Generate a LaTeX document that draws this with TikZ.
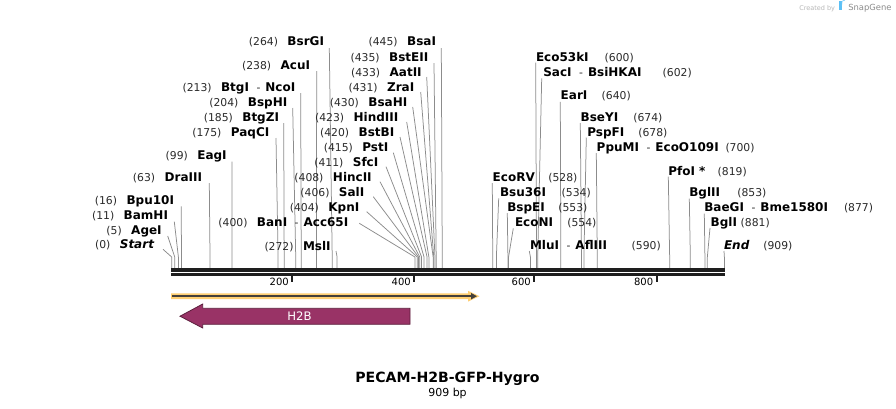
\documentclass[tikz,border=0pt]{standalone}
\usepackage{fontspec}
\setmainfont{DejaVu Sans}
\usetikzlibrary{arrows.meta}
\definecolor{leadc}{HTML}{8C8C8C}
\definecolor{barc}{HTML}{1E1E1E}
\definecolor{numc}{HTML}{2A2A2A}
\definecolor{orangec}{HTML}{FFCF72}
\definecolor{featc}{HTML}{45403A}
\definecolor{h2bc}{HTML}{993366}
\definecolor{snapblue}{HTML}{5CC0F5}
\newcommand\nm[1]{{\fontsize{12}{14}\selectfont\bfseries #1}}
\newcommand\nb[1]{{\fontsize{10.8}{13}\selectfont\color{numc}#1}}
\newcommand\dsh{\hspace{7.5pt}\nb{-}\hspace{5pt}}
\tikzset{
  lbl/.style={inner sep=0pt, outer sep=0pt},
  leader/.style={draw=leadc, line width=0.75pt},
  barline/.style={draw=barc},
  tickm/.style={draw=barc, line width=1.8pt},
  ticklbl/.style={inner sep=0pt, font=\fontsize{10}{12}\selectfont, anchor=base east}
}
% left-side label: name, right end x, baseline, name content, bp, dx, dy
\newcommand\LL[7]{%
  \node[lbl, anchor=base east] (#1) at (#2,#3) {\nb{(#5)}\hspace{9.5pt}#4};
  \coordinate (s#1) at ({171.7+0.608*#5},268);
  \draw[leader] ([shift={(#6,#7)}]#1.base east) -- ({171.7+0.608*#5},257) -- (s#1);}
% right-side label: name, left x, baseline, name content, bp, dx, dy, number x
\newcommand\LR[8]{%
  \node[lbl, anchor=base west] (#1) at (#2,#3) {#4};
  \node[lbl, anchor=base west] (#1n) at (#8,#3) {\nb{(#5)}};
  \coordinate (s#1) at ({171.7+0.608*#5},268);
  \draw[leader] ([shift={(#6,#7)}]#1.base west) -- ({171.7+0.608*#5},257) -- (s#1);}
\begin{document}
\begin{tikzpicture}[x=1pt,y=-1pt]
\fill[white] (0,0) rectangle (896,408);
\useasboundingbox (0,0) rectangle (896,408);

% left group
\LL{bsrgi}{324}{45.7}{\nm{BsrGI}}{264}{5.3}{2.3}
\LL{acui}{310}{69}{\nm{AcuI}}{238}{6.7}{2}
\LL{btgi}{295.3}{91}{\nm{BtgI}\dsh\nm{NcoI}}{213}{5.4}{2}
\LL{bsphi}{287.3}{106}{\nm{BspHI}}{204}{5.4}{2}
\LL{btgzi}{279}{121}{\nm{BtgZI}}{185}{4.7}{2}
\LL{paqci}{269.3}{136}{\nm{PaqCI}}{175}{6.7}{2}
\LL{eagi}{226.7}{159.5}{\nm{EagI}}{99}{5.3}{2}
\LL{draiii}{202}{181.7}{\nm{DraIII}}{63}{7.3}{1.5}
\LL{bpuxi}{174}{204.3}{\nm{Bpu10I}}{16}{7.3}{2}
\LL{bamhi}{168}{219}{\nm{BamHI}}{11}{6.3}{2.7}
\LL{agei}{161.7}{234}{\nm{AgeI}}{5}{6}{2}
\LL{start}{154}{248.3}{\nm{\itshape Start}}{0}{9}{1}
\LL{bani}{348.3}{226}{\nm{BanI}\dsh\nm{Acc65I}}{400}{11}{-2.7}
\LL{msli}{330.7}{250}{\nm{MslI}}{272}{5.3}{1}

% fan group
\LL{bsai}{436}{45.7}{\nm{BsaI}}{445}{5.3}{2.3}
\LL{bsteii}{428.3}{61}{\nm{BstEII}}{435}{5.7}{2}
\LL{aatii}{421.7}{76}{\nm{AatII}}{433}{5}{1}
\LL{zrai}{414.3}{91}{\nm{ZraI}}{431}{6.4}{1}
\LL{bsahi}{407.3}{106}{\nm{BsaHI}}{430}{5.4}{1}
\LL{hindiii}{398.3}{121}{\nm{HindIII}}{423}{8.4}{1}
\LL{bstbi}{394.3}{136}{\nm{BstBI}}{420}{5.7}{1}
\LL{psti}{388.3}{151}{\nm{PstI}}{415}{5}{1.7}
\LL{sfci}{378.3}{166}{\nm{SfcI}}{411}{7.7}{0.7}
\LL{hincii}{371.7}{181}{\nm{HincII}}{408}{8.3}{0.7}
\LL{sali}{364.3}{196}{\nm{SalI}}{406}{9}{0.7}
\LL{kpni}{359.3}{211}{\nm{KpnI}}{404}{7.4}{0.7}

% right group
\LR{ecoliiiki}{536}{61}{\nm{Eco53kI}}{600}{-0.3}{1.7}{604.7}
\LR{saci}{543.3}{76}{\nm{SacI}\dsh\nm{BsiHKAI}}{602}{-1.6}{2.3}{662.7}
\LR{eari}{560.7}{99.3}{\nm{EarI}}{640}{-0.4}{2.5}{601.7}
\LR{bseyi}{580.7}{121}{\nm{BseYI}}{674}{-0.4}{2}{633.3}
\LR{pspfi}{587.3}{136}{\nm{PspFI}}{678}{-1}{1.5}{638.3}
\LR{ppumi}{596.7}{151}{\nm{PpuMI}\dsh\nm{EcoO109I}}{700}{-0.4}{2}{725.5}
\LR{ecorv}{492.7}{181}{\nm{EcoRV}}{528}{-0.4}{2}{548.3}
\LR{bsuxxxvi}{500}{196}{\nm{Bsu36I}}{534}{-1.3}{2.3}{561.7}
\LR{bspei}{507.3}{211}{\nm{BspEI}}{553}{0}{2}{558.3}
\LR{econi}{515}{226}{\nm{EcoNI}}{554}{-1.7}{2.3}{567.3}
\LR{mlui}{530}{249.5}{\nm{MluI}\dsh\nm{AflIII}}{590}{-0.7}{1.5}{631.7}
\LR{pfoi}{668.3}{175}{\nm{PfoI\hspace{4pt}*}}{819}{0}{1.5}{717.7}
\LR{bglii}{689.3}{196}{\nm{BglII}}{853}{0}{2.5}{737.3}
\LR{baegi}{704.3}{211}{\nm{BaeGI}\dsh\nm{Bme1580I}}{877}{0}{2.5}{844}
\LR{bgli}{710.7}{226}{\nm{BglI}}{881}{-0.7}{2}{740.7}
\LR{endl}{724}{249.3}{\nm{\itshape End}}{909}{0}{1.7}{763.3}

% sequence bar
\draw[barline, line width=3.3pt] (171,270) -- (725,270);
\draw[barline, line width=2.4pt] (171,274.5) -- (725,274.5);
% ticks
\foreach \tx/\tl in {292.3/200, 414.3/400, 534.3/600, 656.7/800}{
  \draw[tickm] (\tx,274.5) -- (\tx,282);
  \node[ticklbl] at (\tx-3.3,285) {\tl};
}

% orange feature
\fill[orangec] (171,293.3) -- (468,293.3) -- (468,290.8) -- (479.5,296.2) -- (468,301.6) -- (468,299.1) -- (171,299.1) -- cycle;
\draw[featc, line width=1.8pt, -{Triangle[length=6pt,width=6pt]}] (172,296.2) -- (477,296.2);

% H2B arrow
\draw[h2bc!60!black, line width=0.8pt, fill=h2bc] (410,308.3) -- (202.7,308.3) -- (202.7,304) -- (180,316.2) -- (202.7,328) -- (202.7,324.3) -- (410,324.3) -- cycle;
\node[lbl, text=white, font=\fontsize{11.7}{13}\selectfont] (h2b) at (299.5,316.3) {H2B};

% title
\node[lbl, anchor=base, font=\fontsize{14.1}{16}\selectfont\bfseries] (title) at (447.5,382.7) {PECAM-H2B-GFP-Hygro};
\node[lbl, anchor=base, font=\fontsize{11}{13}\selectfont] (len) at (447.5,396) {909 bp};

% SnapGene credit
\node[lbl, anchor=base west, text=black!28, font=\fontsize{6.5}{8}\selectfont] (cred) at (799.3,10) {Created by};
\fill[snapblue] (839.4,1.2) rectangle (841.9,10.4);
\fill[snapblue!70] (841.9,1.2) -- (843.2,1.2) arc (90:-90:2.3) -- (841.9,5.8) -- cycle;
\node[lbl, anchor=base west, text=black!45, font=\fontsize{8.4}{10}\selectfont] (snap) at (848.3,10) {SnapGene};
\end{tikzpicture}
\end{document}
